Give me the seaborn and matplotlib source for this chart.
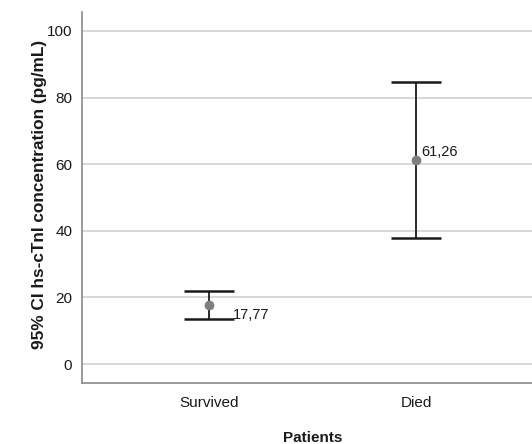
"""Mean hs-cTnI with 95% CI by patient outcome."""
import matplotlib
matplotlib.use("Agg")
import matplotlib.pyplot as plt
import seaborn as sns
import pandas as pd

# values
groups = ["Survived", "Died"]
means = [17.77, 61.26]
ci_low = [13.5, 37.8]
ci_high = [21.9, 84.7]
value_labels = ["17,77", "61,26"]
label_offsets = [(17, -7), (4, 6)]  # offset points for the value labels

df = pd.DataFrame({"group": groups, "mean": means, "lo": ci_low, "hi": ci_high})

sns.set_style("white")
plt.rcParams["font.family"] = ["Liberation Sans", "DejaVu Sans"]

fig = plt.figure(figsize=(5.32, 4.44), dpi=100)
ax = fig.add_axes([82 / 532, 61 / 444, 450 / 532, 371 / 444])

sns.pointplot(data=df, x="group", y="mean", order=groups, errorbar=None,
              linestyle="none", marker="o", color="#7f7f7f", markersize=5,
              ax=ax, zorder=5)

# confidence intervals, one per category position
xpos = range(len(df))
ax.errorbar(xpos, df["mean"], yerr=[df["mean"] - df["lo"], df["hi"] - df["mean"]],
            fmt="none", ecolor="#1a1a1a", elinewidth=1.3, capsize=18,
            capthick=1.8, zorder=4)

for x, m, txt, off in zip(xpos, df["mean"], value_labels, label_offsets):
    ax.annotate(txt, (x, m), xytext=off, textcoords="offset points",
                fontsize=10.5, color="#1a1a1a", va="center", ha="left")

ax.set_xlim(-0.614, 1.56)
ax.set_ylim(-5.7, 105.7)
ax.set_yticks([0, 20, 40, 60, 80, 100])
ax.yaxis.grid(True, color="#d4d4d4", linewidth=1.3)
ax.set_axisbelow(True)

for side in ["top", "right"]:
    ax.spines[side].set_visible(False)
for side in ["left", "bottom"]:
    ax.spines[side].set_color("#8a8a8a")
    ax.spines[side].set_linewidth(1.2)

ax.tick_params(axis="both", length=0, labelsize=11, colors="#1a1a1a")
ax.tick_params(axis="y", pad=7)
ax.tick_params(axis="x", pad=9)

ax.set_xlabel("Patients", fontsize=11, fontweight="bold", color="#1a1a1a")
ax.set_ylabel("95% CI hs-cTnI concentration (pg/mL)", fontsize=12.4,
              fontweight="bold", color="#1a1a1a")
ax.xaxis.set_label_coords(0.513, -0.13)
ax.yaxis.set_label_coords(-0.078, 0.507)

fig.savefig("out.png", dpi=100)
plt.close(fig)
